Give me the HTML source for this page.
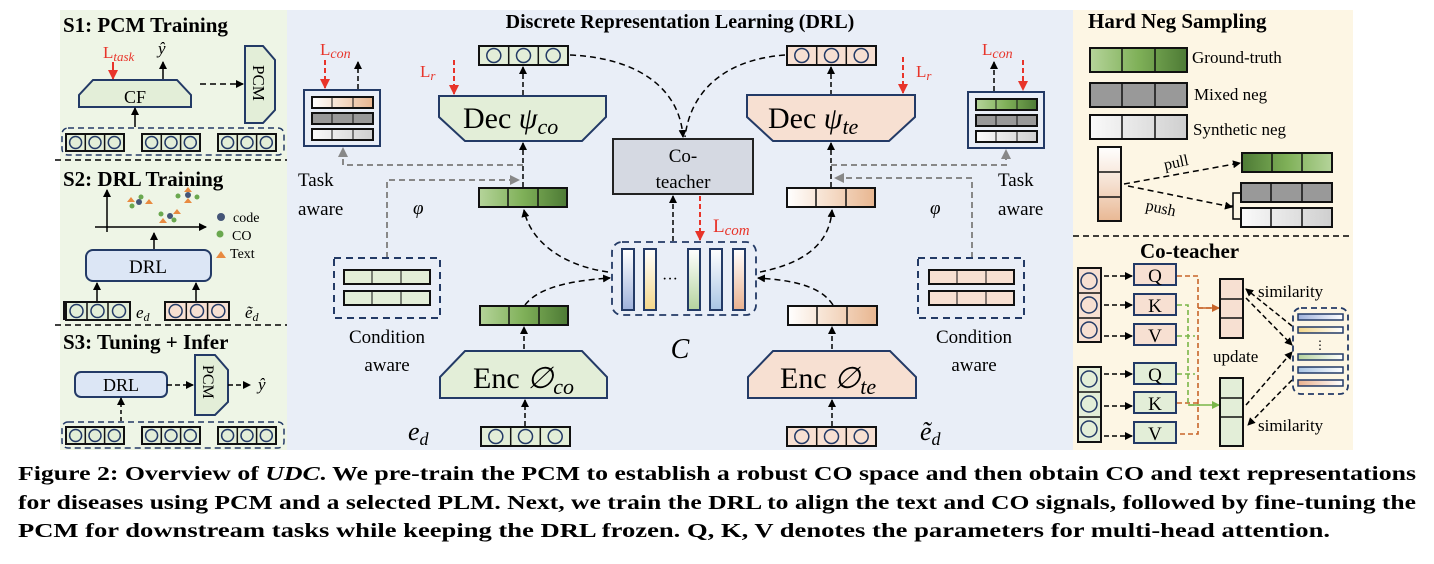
<!DOCTYPE html>
<html><head><meta charset="utf-8"><style>
html,body{margin:0;padding:0;background:#fff}
svg{display:block}
text{font-family:"Liberation Serif",serif}
</style></head><body>
<svg width="1434" height="564" viewBox="0 0 1434 564" xmlns="http://www.w3.org/2000/svg">
<defs>
<marker id="ab" markerWidth="8" markerHeight="8" refX="7" refY="4" orient="auto" markerUnits="userSpaceOnUse"><path d="M0,0 L8,4 L0,8 z" fill="#000"/></marker>
<marker id="ar" markerWidth="10" markerHeight="10" refX="9" refY="5" orient="auto" markerUnits="userSpaceOnUse"><path d="M0,0 L10,5 L0,10 z" fill="#e8342a"/></marker>
<marker id="ag" markerWidth="10" markerHeight="10" refX="9" refY="5" orient="auto" markerUnits="userSpaceOnUse"><path d="M0,0 L10,5 L0,10 z" fill="#888"/></marker>
<marker id="ao" markerWidth="8" markerHeight="8" refX="7" refY="4" orient="auto" markerUnits="userSpaceOnUse"><path d="M0,0 L8,4 L0,8 z" fill="#c8652a"/></marker>
<marker id="agr" markerWidth="8" markerHeight="8" refX="7" refY="4" orient="auto" markerUnits="userSpaceOnUse"><path d="M0,0 L8,4 L0,8 z" fill="#7ab648"/></marker>
<linearGradient id="gg" x1="0" x2="1"><stop offset="0" stop-color="#b5d49a"/><stop offset=".5" stop-color="#7fb058"/><stop offset="1" stop-color="#4d7a35"/></linearGradient>
<linearGradient id="ggr" x1="1" x2="0"><stop offset="0" stop-color="#b5d49a"/><stop offset=".5" stop-color="#7fb058"/><stop offset="1" stop-color="#4d7a35"/></linearGradient>
<linearGradient id="gp" x1="0" x2="1"><stop offset="0" stop-color="#fff"/><stop offset=".5" stop-color="#f5dcc8"/><stop offset="1" stop-color="#e8b690"/></linearGradient>
<linearGradient id="gl" x1="0" x2="1"><stop offset="0" stop-color="#fafafa"/><stop offset="1" stop-color="#cfcfcf"/></linearGradient>
<linearGradient id="gv" x1="0" y1="0" x2="0" y2="1"><stop offset="0" stop-color="#fff"/><stop offset=".5" stop-color="#f5e0d0"/><stop offset="1" stop-color="#e9b894"/></linearGradient>
<linearGradient id="b1" x1="0" y1="0" x2="0" y2="1"><stop offset="0" stop-color="#fff"/><stop offset="1" stop-color="#9fb2dc"/></linearGradient>
<linearGradient id="b2" x1="0" y1="0" x2="0" y2="1"><stop offset="0" stop-color="#fff"/><stop offset="1" stop-color="#f4d78a"/></linearGradient>
<linearGradient id="b3" x1="0" y1="0" x2="0" y2="1"><stop offset="0" stop-color="#fff"/><stop offset="1" stop-color="#b5d39e"/></linearGradient>
<linearGradient id="b4" x1="0" y1="0" x2="0" y2="1"><stop offset="0" stop-color="#fff"/><stop offset="1" stop-color="#a9c5e4"/></linearGradient>
<linearGradient id="b5" x1="0" y1="0" x2="0" y2="1"><stop offset="0" stop-color="#fff"/><stop offset="1" stop-color="#eab18e"/></linearGradient>
<linearGradient id="h1" x1="0" x2="1"><stop offset="0" stop-color="#9fb2dc"/><stop offset="1" stop-color="#fff"/></linearGradient>
<linearGradient id="h2" x1="0" x2="1"><stop offset="0" stop-color="#f4d78a"/><stop offset="1" stop-color="#fff"/></linearGradient>
<linearGradient id="h3" x1="0" x2="1"><stop offset="0" stop-color="#b5d39e"/><stop offset="1" stop-color="#fff"/></linearGradient>
<linearGradient id="h4" x1="0" x2="1"><stop offset="0" stop-color="#a9c5e4"/><stop offset="1" stop-color="#fff"/></linearGradient>
<linearGradient id="h5" x1="0" x2="1"><stop offset="0" stop-color="#eab18e"/><stop offset="1" stop-color="#fff"/></linearGradient>
<g id="cg"><rect x="0" y="0" width="58" height="17" fill="#e3eed8" stroke="#111" stroke-width="2"/><line x1="19.3" y1="0" x2="19.3" y2="17" stroke="#111" stroke-width="1.5"/><line x1="38.6" y1="0" x2="38.6" y2="17" stroke="#111" stroke-width="1.5"/><circle cx="9.6" cy="8.5" r="6" fill="none" stroke="#233a66" stroke-width="1.5"/><circle cx="29" cy="8.5" r="6" fill="none" stroke="#233a66" stroke-width="1.5"/><circle cx="48.3" cy="8.5" r="6" fill="none" stroke="#233a66" stroke-width="1.5"/></g>
<g id="cp"><rect x="0" y="0" width="64" height="18" fill="#f7e0d2" stroke="#111" stroke-width="2"/><line x1="21.3" y1="0" x2="21.3" y2="18" stroke="#111" stroke-width="1.5"/><line x1="42.6" y1="0" x2="42.6" y2="18" stroke="#111" stroke-width="1.5"/><circle cx="10.6" cy="9" r="6.5" fill="none" stroke="#233a66" stroke-width="1.5"/><circle cx="32" cy="9" r="6.5" fill="none" stroke="#233a66" stroke-width="1.5"/><circle cx="53.3" cy="9" r="6.5" fill="none" stroke="#233a66" stroke-width="1.5"/></g>
<g id="cgm"><rect x="0" y="0" width="89" height="19" fill="#e3eed8" stroke="#111" stroke-width="2"/><line x1="29.7" y1="0" x2="29.7" y2="19" stroke="#111" stroke-width="1.5"/><line x1="59.3" y1="0" x2="59.3" y2="19" stroke="#111" stroke-width="1.5"/><circle cx="14.8" cy="9.5" r="7" fill="none" stroke="#233a66" stroke-width="1.5"/><circle cx="44.5" cy="9.5" r="7" fill="none" stroke="#233a66" stroke-width="1.5"/><circle cx="74.2" cy="9.5" r="7" fill="none" stroke="#233a66" stroke-width="1.5"/></g>
<g id="cpm"><rect x="0" y="0" width="89" height="19" fill="#f7e0d2" stroke="#111" stroke-width="2"/><line x1="29.7" y1="0" x2="29.7" y2="19" stroke="#111" stroke-width="1.5"/><line x1="59.3" y1="0" x2="59.3" y2="19" stroke="#111" stroke-width="1.5"/><circle cx="14.8" cy="9.5" r="7" fill="none" stroke="#233a66" stroke-width="1.5"/><circle cx="44.5" cy="9.5" r="7" fill="none" stroke="#233a66" stroke-width="1.5"/><circle cx="74.2" cy="9.5" r="7" fill="none" stroke="#233a66" stroke-width="1.5"/></g>
</defs>

<!-- panels -->
<rect x="60" y="10" width="227" height="440" fill="#eef5e6"/>
<rect x="287" y="10" width="786" height="440" fill="#e9eef7"/>
<rect x="1073" y="10" width="280" height="440" fill="#fdf6e4"/>

<!-- LEFT PANEL -->
<g font-weight="bold" font-size="21" fill="#000">
<text x="63" y="32">S1: PCM Training</text>
<text x="63" y="186">S2: DRL Training</text>
<text x="63" y="349">S3: Tuning + Infer</text>
</g>
<text x="103" y="58" font-size="17" fill="#e8342a">L<tspan font-style="italic" font-size="13" dy="3">task</tspan></text>
<text x="158" y="54" font-size="17" font-style="italic">ŷ</text>
<line x1="113" y1="62" x2="113" y2="79" stroke="#e8342a" stroke-width="2" marker-end="url(#ar)"/>
<line x1="163" y1="80" x2="163" y2="62" stroke="#000" stroke-width="1.5" marker-end="url(#ab)"/>
<path d="M79,107 L79,95 L93,80 L177,80 L191,95 L191,107 Z" fill="#e3eed8" stroke="#233a66" stroke-width="2"/>
<text x="135" y="103" font-size="18" text-anchor="middle">CF</text>
<line x1="200" y1="84" x2="243" y2="84" stroke="#000" stroke-width="1.5" stroke-dasharray="6,4" marker-end="url(#ab)"/>
<path d="M245,46 L263,46 L275,60 L275,110 L263,123 L245,123 Z" fill="#e3eed8" stroke="#233a66" stroke-width="2"/>
<text transform="translate(253,65) rotate(90)" font-size="17">PCM</text>
<line x1="135" y1="127" x2="135" y2="108" stroke="#000" stroke-width="1.5" marker-end="url(#ab)"/>
<rect x="62" y="128" width="222" height="27" rx="6" fill="none" stroke="#233a66" stroke-width="1.5" stroke-dasharray="6,4"/>
<use href="#cg" x="66" y="134"/><use href="#cg" x="142" y="134"/><use href="#cg" x="218" y="134"/>
<line x1="55" y1="160" x2="287" y2="160" stroke="#000" stroke-width="1.5" stroke-dasharray="6,4"/>
<line x1="107" y1="232" x2="107" y2="190" stroke="#000" stroke-width="1.5" marker-end="url(#ab)"/>
<line x1="95" y1="227" x2="206" y2="227" stroke="#000" stroke-width="1.5" marker-end="url(#ab)"/>
<g fill="#445577">
<circle cx="139" cy="202" r="3"/><circle cx="188" cy="195" r="3"/><circle cx="170" cy="216" r="3"/></g>
<g fill="#6aa84f"><circle cx="132" cy="206" r="2.5"/><circle cx="141" cy="197" r="2.5"/><circle cx="178" cy="196" r="2.5"/><circle cx="197" cy="197" r="2.5"/><circle cx="161" cy="214" r="2.5"/><circle cx="174" cy="220" r="2.5"/></g>
<g fill="#e88a40"><path d="M127,202 l4,-5 l4,5z"/><path d="M145,204 l4,-5 l4,5z"/><path d="M184,192 l4,-5 l4,5z"/><path d="M184,203 l4,-5 l4,5z"/><path d="M173,214 l4,-5 l4,5z"/><path d="M159,223 l4,-5 l4,5z"/></g>
<circle cx="221" cy="217" r="4" fill="#445577"/><text x="233" y="222" font-size="14">code</text>
<circle cx="220" cy="234" r="3.5" fill="#6aa84f"/><text x="232" y="240" font-size="14">CO</text>
<path d="M216,258 l5,-7 l5,7z" fill="#e88a40"/><text x="230" y="258" font-size="14">Text</text>
<line x1="154" y1="250" x2="154" y2="233" stroke="#000" stroke-width="1.5" marker-end="url(#ab)"/>
<rect x="86" y="250" width="125" height="31" rx="7" fill="#dce6f5" stroke="#233a66" stroke-width="2"/>
<text x="148" y="273" font-size="19" text-anchor="middle">DRL</text>
<line x1="97" y1="301" x2="97" y2="283" stroke="#000" stroke-width="1.5" marker-end="url(#ab)"/>
<line x1="196" y1="301" x2="196" y2="283" stroke="#000" stroke-width="1.5" marker-end="url(#ab)"/>
<use href="#cg" x="66" y="302" transform="translate(-2,0) scale(1)"/>
<rect x="66" y="302" width="64" height="18" fill="#e3eed8" stroke="#111" stroke-width="2"/><line x1="87" y1="302" x2="87" y2="320" stroke="#111" stroke-width="1.5"/><line x1="108" y1="302" x2="108" y2="320" stroke="#111" stroke-width="1.5"/><circle cx="76.5" cy="311" r="6.5" fill="none" stroke="#233a66" stroke-width="1.5"/><circle cx="97.5" cy="311" r="6.5" fill="none" stroke="#233a66" stroke-width="1.5"/><circle cx="119" cy="311" r="6.5" fill="none" stroke="#233a66" stroke-width="1.5"/>
<use href="#cp" x="165" y="302"/>
<text x="136" y="318" font-size="17" font-style="italic">e<tspan font-size="12" dy="3">d</tspan></text>
<text x="245" y="318" font-size="17" font-style="italic">ẽ<tspan font-size="12" dy="3">d</tspan></text>
<line x1="55" y1="325" x2="287" y2="325" stroke="#000" stroke-width="1.5" stroke-dasharray="6,4"/>
<rect x="75" y="372" width="92" height="25" rx="6" fill="#dce6f5" stroke="#233a66" stroke-width="2"/>
<text x="121" y="391" font-size="18" text-anchor="middle">DRL</text>
<line x1="167" y1="385" x2="193" y2="385" stroke="#000" stroke-width="1.5" stroke-dasharray="5,3" marker-end="url(#ab)"/>
<path d="M195,355 L215,355 L228,370 L228,402 L215,415 L195,415 Z" fill="#e3eed8" stroke="#233a66" stroke-width="2"/>
<text transform="translate(203,365) rotate(90)" font-size="16">PCM</text>
<line x1="228" y1="385" x2="250" y2="385" stroke="#000" stroke-width="1.5" stroke-dasharray="5,3" marker-end="url(#ab)"/>
<text x="258" y="390" font-size="17" font-style="italic">ŷ</text>
<line x1="121" y1="421" x2="121" y2="398" stroke="#000" stroke-width="1.5" stroke-dasharray="4,3" marker-end="url(#ab)"/>
<rect x="62" y="422" width="222" height="26" rx="6" fill="none" stroke="#233a66" stroke-width="1.5" stroke-dasharray="6,4"/>
<use href="#cg" x="66" y="427"/><use href="#cg" x="142" y="427"/><use href="#cg" x="218" y="427"/>

<!-- MIDDLE -->
<text x="680" y="28" font-size="20" font-weight="bold" text-anchor="middle">Discrete Representation Learning (DRL)</text>
<!-- left column -->
<use href="#cgm" x="479" y="46"/>
<line x1="523" y1="95" x2="523" y2="67" stroke="#000" stroke-width="1.5" stroke-dasharray="5,3" marker-end="url(#ab)"/>
<path d="M439,96 L606,96 L606,117 L582,141 L465,141 L439,117 Z" fill="#e3eed8" stroke="#233a66" stroke-width="2"/>
<text x="463" y="128" font-size="30">Dec <tspan font-style="italic">ψ</tspan><tspan font-style="italic" font-size="22" dy="6">co</tspan></text>
<text x="420" y="77" font-size="17" fill="#e8342a">L<tspan font-style="italic" font-size="13" dy="3">r</tspan></text>
<line x1="454" y1="60" x2="454" y2="94" stroke="#e8342a" stroke-width="2" stroke-dasharray="5,3" marker-end="url(#ar)"/>
<line x1="523" y1="187" x2="523" y2="143" stroke="#000" stroke-width="1.5" stroke-dasharray="5,3" marker-end="url(#ab)"/>
<rect x="479" y="188" width="88" height="19" fill="url(#gg)" stroke="#111" stroke-width="2"/><line x1="508" y1="188" x2="508" y2="207" stroke="#111" stroke-width="1.5"/><line x1="538" y1="188" x2="538" y2="207" stroke="#111" stroke-width="1.5"/>
<rect x="480" y="306" width="88" height="19" fill="url(#gg)" stroke="#111" stroke-width="2"/><line x1="509" y1="306" x2="509" y2="325" stroke="#111" stroke-width="1.5"/><line x1="539" y1="306" x2="539" y2="325" stroke="#111" stroke-width="1.5"/>
<line x1="524" y1="349" x2="524" y2="327" stroke="#000" stroke-width="1.5" stroke-dasharray="5,3" marker-end="url(#ab)"/>
<path d="M440,398 L440,377 L465,351 L582,351 L607,377 L607,398 Z" fill="#e3eed8" stroke="#233a66" stroke-width="2"/>
<text x="473" y="388" font-size="30">Enc <tspan font-style="italic">∅</tspan><tspan font-style="italic" font-size="22" dy="6">co</tspan></text>
<line x1="525" y1="426" x2="525" y2="400" stroke="#000" stroke-width="1.5" stroke-dasharray="5,3" marker-end="url(#ab)"/>
<use href="#cgm" x="481" y="427"/>
<text x="408" y="440" font-size="26" font-style="italic">e<tspan font-size="18" dy="5">d</tspan></text>
<!-- task aware left -->
<rect x="304" y="90" width="76" height="56" fill="#e9eef7" stroke="#233a66" stroke-width="2"/>
<rect x="312" y="97" width="61" height="11" fill="url(#gp)" stroke="#111" stroke-width="2"/><line x1="332" y1="97" x2="332" y2="108" stroke="#111"/><line x1="353" y1="97" x2="353" y2="108" stroke="#111"/>
<rect x="312" y="113" width="61" height="11" fill="#999" stroke="#111" stroke-width="2"/><line x1="332" y1="113" x2="332" y2="124" stroke="#111"/><line x1="353" y1="113" x2="353" y2="124" stroke="#111"/>
<rect x="312" y="129" width="61" height="11" fill="url(#gl)" stroke="#111" stroke-width="2"/><line x1="332" y1="129" x2="332" y2="140" stroke="#111"/><line x1="353" y1="129" x2="353" y2="140" stroke="#111"/>
<text x="320" y="55" font-size="17" fill="#e8342a">L<tspan font-style="italic" font-size="14" dy="3">con</tspan></text>
<line x1="325" y1="60" x2="325" y2="88" stroke="#e8342a" stroke-width="2" stroke-dasharray="5,3" marker-end="url(#ar)"/>
<line x1="358" y1="89" x2="358" y2="62" stroke="#000" stroke-width="1.5" stroke-dasharray="5,3" marker-end="url(#ab)"/>
<path d="M523,165 L343,165 L343,148" fill="none" stroke="#888" stroke-width="2" stroke-dasharray="6,4" marker-end="url(#ag)"/>
<path d="M387,258 L387,180 L519,180" fill="none" stroke="#888" stroke-width="2" stroke-dasharray="6,4" marker-end="url(#ag)"/>
<text x="298" y="186" font-size="19">Task</text><text x="298" y="215" font-size="19">aware</text>
<text x="413" y="214" font-size="19" font-style="italic">φ</text>
<rect x="334" y="258" width="106" height="60" fill="none" stroke="#233a66" stroke-width="2" stroke-dasharray="7,5"/>
<rect x="344" y="270" width="86" height="14" fill="#e3eed8" stroke="#111" stroke-width="2"/><line x1="372" y1="270" x2="372" y2="284" stroke="#111"/><line x1="401" y1="270" x2="401" y2="284" stroke="#111"/>
<rect x="344" y="291" width="86" height="14" fill="#e3eed8" stroke="#111" stroke-width="2"/><line x1="372" y1="291" x2="372" y2="305" stroke="#111"/><line x1="401" y1="291" x2="401" y2="305" stroke="#111"/>
<text x="387" y="343" font-size="19" text-anchor="middle">Condition</text><text x="387" y="371" font-size="19" text-anchor="middle">aware</text>
<!-- co-teacher, C -->
<rect x="613" y="139" width="140" height="55" fill="#d5d9e2" stroke="#222" stroke-width="2"/>
<text x="683" y="162" font-size="19" text-anchor="middle">Co-</text><text x="683" y="188" font-size="19" text-anchor="middle">teacher</text>
<path d="M570,55 C640,58 680,90 683,137" fill="none" stroke="#000" stroke-width="1.5" stroke-dasharray="6,4" marker-end="url(#ab)"/>
<path d="M785,55 C720,60 690,95 685,137" fill="none" stroke="#000" stroke-width="1.5" stroke-dasharray="6,4"/>
<line x1="673" y1="241" x2="673" y2="196" stroke="#000" stroke-width="1.5" stroke-dasharray="5,3" marker-end="url(#ab)"/>
<line x1="700" y1="196" x2="700" y2="240" stroke="#e8342a" stroke-width="2" stroke-dasharray="5,3" marker-end="url(#ar)"/>
<text x="713" y="232" font-size="19" fill="#e8342a">L<tspan font-style="italic" font-size="15" dy="3">com</tspan></text>
<rect x="612" y="242" width="144" height="73" rx="10" fill="none" stroke="#233a66" stroke-width="1.8" stroke-dasharray="7,5"/>
<rect x="622" y="249" width="12" height="61" fill="url(#b1)" stroke="#233a66" stroke-width="2"/>
<rect x="644" y="249" width="12" height="61" fill="url(#b2)" stroke="#233a66" stroke-width="2"/>
<text x="670" y="284" font-size="16" text-anchor="middle">···</text>
<rect x="688" y="249" width="12" height="61" fill="url(#b3)" stroke="#233a66" stroke-width="2"/>
<rect x="710" y="249" width="12" height="61" fill="url(#b4)" stroke="#233a66" stroke-width="2"/>
<rect x="733" y="249" width="12" height="61" fill="url(#b5)" stroke="#233a66" stroke-width="2"/>
<text x="680" y="358" font-size="28" font-style="italic" text-anchor="middle">C</text>
<path d="M525,305 C540,285 580,280 610,278" fill="none" stroke="#000" stroke-width="1.5" stroke-dasharray="6,4" marker-end="url(#ab)"/>
<path d="M608,272 C560,265 530,240 524,210" fill="none" stroke="#000" stroke-width="1.5" stroke-dasharray="6,4" marker-end="url(#ab)"/>
<path d="M833,305 C820,285 790,280 758,278" fill="none" stroke="#000" stroke-width="1.5" stroke-dasharray="6,4" marker-end="url(#ab)"/>
<path d="M760,272 C810,262 830,240 832,210" fill="none" stroke="#000" stroke-width="1.5" stroke-dasharray="6,4" marker-end="url(#ab)"/>
<!-- right column -->
<use href="#cpm" x="787" y="46"/>
<line x1="831" y1="95" x2="831" y2="67" stroke="#000" stroke-width="1.5" stroke-dasharray="5,3" marker-end="url(#ab)"/>
<path d="M747,95 L915,95 L915,117 L889,141 L773,141 L747,117 Z" fill="#f7e0d2" stroke="#233a66" stroke-width="2"/>
<text x="768" y="128" font-size="30">Dec <tspan font-style="italic">ψ</tspan><tspan font-style="italic" font-size="22" dy="6">te</tspan></text>
<line x1="903" y1="57" x2="903" y2="93" stroke="#e8342a" stroke-width="2" stroke-dasharray="5,3" marker-end="url(#ar)"/>
<text x="916" y="77" font-size="17" fill="#e8342a">L<tspan font-style="italic" font-size="13" dy="3">r</tspan></text>
<line x1="831" y1="187" x2="831" y2="143" stroke="#000" stroke-width="1.5" stroke-dasharray="5,3" marker-end="url(#ab)"/>
<rect x="787" y="188" width="88" height="19" fill="url(#gp)" stroke="#111" stroke-width="2"/><line x1="816" y1="188" x2="816" y2="207" stroke="#111" stroke-width="1.5"/><line x1="846" y1="188" x2="846" y2="207" stroke="#111" stroke-width="1.5"/>
<rect x="788" y="306" width="89" height="19" fill="url(#gp)" stroke="#111" stroke-width="2"/><line x1="817" y1="306" x2="817" y2="325" stroke="#111" stroke-width="1.5"/><line x1="847" y1="306" x2="847" y2="325" stroke="#111" stroke-width="1.5"/>
<line x1="832" y1="349" x2="832" y2="327" stroke="#000" stroke-width="1.5" stroke-dasharray="5,3" marker-end="url(#ab)"/>
<path d="M748,398 L748,377 L773,351 L890,351 L916,377 L916,398 Z" fill="#f7e0d2" stroke="#233a66" stroke-width="2"/>
<text x="780" y="388" font-size="30">Enc <tspan font-style="italic">∅</tspan><tspan font-style="italic" font-size="22" dy="6">te</tspan></text>
<line x1="832" y1="426" x2="832" y2="400" stroke="#000" stroke-width="1.5" stroke-dasharray="5,3" marker-end="url(#ab)"/>
<use href="#cpm" x="787" y="427"/>
<text x="920" y="440" font-size="26" font-style="italic">ẽ<tspan font-size="18" dy="5">d</tspan></text>
<!-- task aware right -->
<rect x="968" y="92" width="76" height="56" fill="#e9eef7" stroke="#233a66" stroke-width="2"/>
<rect x="976" y="99" width="61" height="11" fill="url(#gg)" stroke="#111" stroke-width="2"/><line x1="996" y1="99" x2="996" y2="110" stroke="#111"/><line x1="1017" y1="99" x2="1017" y2="110" stroke="#111"/>
<rect x="976" y="115" width="61" height="11" fill="#999" stroke="#111" stroke-width="2"/><line x1="996" y1="115" x2="996" y2="126" stroke="#111"/><line x1="1017" y1="115" x2="1017" y2="126" stroke="#111"/>
<rect x="976" y="131" width="61" height="11" fill="url(#gl)" stroke="#111" stroke-width="2"/><line x1="996" y1="131" x2="996" y2="142" stroke="#111"/><line x1="1017" y1="131" x2="1017" y2="142" stroke="#111"/>
<text x="982" y="55" font-size="17" fill="#e8342a">L<tspan font-style="italic" font-size="14" dy="3">con</tspan></text>
<line x1="1023" y1="60" x2="1023" y2="90" stroke="#e8342a" stroke-width="2" stroke-dasharray="5,3" marker-end="url(#ar)"/>
<line x1="994" y1="91" x2="994" y2="62" stroke="#000" stroke-width="1.5" stroke-dasharray="5,3" marker-end="url(#ab)"/>
<path d="M831,165 L1006,165 L1006,150" fill="none" stroke="#888" stroke-width="2" stroke-dasharray="6,4" marker-end="url(#ag)"/>
<path d="M972,258 L972,178 L835,178" fill="none" stroke="#888" stroke-width="2" stroke-dasharray="6,4" marker-end="url(#ag)"/>
<text x="998" y="186" font-size="19">Task</text><text x="998" y="215" font-size="19">aware</text>
<text x="930" y="214" font-size="19" font-style="italic">φ</text>
<rect x="918" y="258" width="106" height="60" fill="none" stroke="#233a66" stroke-width="2" stroke-dasharray="7,5"/>
<rect x="929" y="270" width="85" height="14" fill="#f7e0d2" stroke="#111" stroke-width="2"/><line x1="957" y1="270" x2="957" y2="284" stroke="#111"/><line x1="986" y1="270" x2="986" y2="284" stroke="#111"/>
<rect x="929" y="291" width="85" height="14" fill="#f7e0d2" stroke="#111" stroke-width="2"/><line x1="957" y1="291" x2="957" y2="305" stroke="#111"/><line x1="986" y1="291" x2="986" y2="305" stroke="#111"/>
<text x="974" y="343" font-size="19" text-anchor="middle">Condition</text><text x="974" y="371" font-size="19" text-anchor="middle">aware</text>

<!-- RIGHT PANEL -->
<text x="1088" y="28" font-size="21" font-weight="bold">Hard Neg Sampling</text>
<rect x="1090" y="48" width="97" height="24" fill="url(#gg)" stroke="#111" stroke-width="2"/><line x1="1122" y1="48" x2="1122" y2="72" stroke="#111" stroke-width="1.5"/><line x1="1155" y1="48" x2="1155" y2="72" stroke="#111" stroke-width="1.5"/>
<rect x="1090" y="83" width="97" height="24" fill="#999" stroke="#111" stroke-width="2"/><line x1="1122" y1="83" x2="1122" y2="107" stroke="#111" stroke-width="1.5"/><line x1="1155" y1="83" x2="1155" y2="107" stroke="#111" stroke-width="1.5"/>
<rect x="1090" y="115" width="97" height="24" fill="url(#gl)" stroke="#111" stroke-width="2"/><line x1="1122" y1="115" x2="1122" y2="139" stroke="#111" stroke-width="1.5"/><line x1="1155" y1="115" x2="1155" y2="139" stroke="#111" stroke-width="1.5"/>
<text x="1192" y="63" font-size="17">Ground-truth</text>
<text x="1194" y="100" font-size="17">Mixed neg</text>
<text x="1193" y="135" font-size="17">Synthetic neg</text>
<rect x="1098" y="147" width="23" height="74" fill="url(#gv)" stroke="#111" stroke-width="2"/><line x1="1098" y1="172" x2="1121" y2="172" stroke="#111" stroke-width="1.5"/><line x1="1098" y1="197" x2="1121" y2="197" stroke="#111" stroke-width="1.5"/>
<line x1="1124" y1="184" x2="1240" y2="163" stroke="#000" stroke-width="1.5" stroke-dasharray="6,4" marker-end="url(#ab)"/>
<line x1="1128" y1="186" x2="1232" y2="207" stroke="#000" stroke-width="1.5" stroke-dasharray="6,4" marker-end="url(#ab)"/>
<path d="M1240,193 L1233,193 L1233,219 L1240,219 M1233,206 L1229,206" fill="none" stroke="#000" stroke-width="1.5"/>
<text transform="translate(1165,170) rotate(-12)" font-size="16">pull</text>
<text transform="translate(1145,210) rotate(12)" font-size="16">push</text>
<rect x="1242" y="153" width="90" height="19" fill="url(#ggr)" stroke="#111" stroke-width="2"/><line x1="1272" y1="153" x2="1272" y2="172" stroke="#111" stroke-width="1.5"/><line x1="1302" y1="153" x2="1302" y2="172" stroke="#111" stroke-width="1.5"/>
<rect x="1241" y="183" width="91" height="19" fill="#999" stroke="#111" stroke-width="2"/><line x1="1271" y1="183" x2="1271" y2="202" stroke="#111" stroke-width="1.5"/><line x1="1302" y1="183" x2="1302" y2="202" stroke="#111" stroke-width="1.5"/>
<rect x="1241" y="208" width="91" height="19" fill="url(#gl)" stroke="#111" stroke-width="2"/><line x1="1271" y1="208" x2="1271" y2="227" stroke="#111" stroke-width="1.5"/><line x1="1302" y1="208" x2="1302" y2="227" stroke="#111" stroke-width="1.5"/>
<line x1="1073" y1="236" x2="1353" y2="236" stroke="#000" stroke-width="1.5" stroke-dasharray="6,4"/>
<text x="1140" y="258" font-size="21" font-weight="bold">Co-teacher</text>
<!-- coteacher inputs -->
<rect x="1078" y="268" width="23" height="74" fill="#f7e0d2" stroke="#111" stroke-width="2"/><line x1="1078" y1="293" x2="1101" y2="293" stroke="#111" stroke-width="1.5"/><line x1="1078" y1="318" x2="1101" y2="318" stroke="#111" stroke-width="1.5"/>
<ellipse cx="1089" cy="281" rx="8" ry="8" fill="none" stroke="#233a66" stroke-width="1.5"/><ellipse cx="1089" cy="305" rx="8" ry="8" fill="none" stroke="#233a66" stroke-width="1.5"/><ellipse cx="1089" cy="330" rx="8" ry="8" fill="none" stroke="#233a66" stroke-width="1.5"/>
<rect x="1078" y="367" width="23" height="75" fill="#e3eed8" stroke="#111" stroke-width="2"/><line x1="1078" y1="392" x2="1101" y2="392" stroke="#111" stroke-width="1.5"/><line x1="1078" y1="417" x2="1101" y2="417" stroke="#111" stroke-width="1.5"/>
<ellipse cx="1089" cy="379" rx="8" ry="8" fill="none" stroke="#233a66" stroke-width="1.5"/><ellipse cx="1089" cy="404" rx="8" ry="8" fill="none" stroke="#233a66" stroke-width="1.5"/><ellipse cx="1089" cy="429" rx="8" ry="8" fill="none" stroke="#233a66" stroke-width="1.5"/>
<g stroke="#000" stroke-width="1.5" stroke-dasharray="5,3">
<line x1="1104" y1="276" x2="1132" y2="276" marker-end="url(#ab)"/><line x1="1104" y1="305" x2="1132" y2="305" marker-end="url(#ab)"/><line x1="1104" y1="336" x2="1132" y2="336" marker-end="url(#ab)"/>
<line x1="1104" y1="374" x2="1132" y2="374" marker-end="url(#ab)"/><line x1="1104" y1="406" x2="1132" y2="406" marker-end="url(#ab)"/><line x1="1104" y1="436" x2="1132" y2="436" marker-end="url(#ab)"/>
</g>
<g font-size="19" text-anchor="middle">
<rect x="1134" y="264" width="42" height="21" fill="#f7e0d2" stroke="#233a66" stroke-width="2"/><text x="1155" y="282">Q</text>
<rect x="1134" y="294" width="42" height="21" fill="#f7e0d2" stroke="#233a66" stroke-width="2"/><text x="1155" y="312">K</text>
<rect x="1134" y="324" width="42" height="21" fill="#f7e0d2" stroke="#233a66" stroke-width="2"/><text x="1155" y="342">V</text>
<rect x="1134" y="363" width="42" height="21" fill="#e3eed8" stroke="#233a66" stroke-width="2"/><text x="1155" y="381">Q</text>
<rect x="1134" y="392" width="42" height="21" fill="#e3eed8" stroke="#233a66" stroke-width="2"/><text x="1155" y="410">K</text>
<rect x="1134" y="422" width="42" height="21" fill="#e3eed8" stroke="#233a66" stroke-width="2"/><text x="1155" y="440">V</text>
</g>
<path d="M1177,276 L1198,276 L1198,434 L1177,434 M1177,403 L1198,403 M1198,308 L1218,308" fill="none" stroke="#c8652a" stroke-width="1.6" stroke-dasharray="5,3"/>
<line x1="1198" y1="308" x2="1219" y2="308" stroke="#c8652a" stroke-width="1.6" marker-end="url(#ao)"/>
<path d="M1177,305 L1188,305 L1188,405 L1200,405 M1177,336 L1195,336 M1177,374 L1195,374" fill="none" stroke="#7ab648" stroke-width="1.6" stroke-dasharray="5,3"/>
<line x1="1188" y1="405" x2="1219" y2="405" stroke="#7ab648" stroke-width="1.6" marker-end="url(#agr)"/>
<rect x="1220" y="279" width="23" height="59" fill="#f7e0d2" stroke="#111" stroke-width="2"/><line x1="1220" y1="299" x2="1243" y2="299" stroke="#111" stroke-width="1.5"/><line x1="1220" y1="318" x2="1243" y2="318" stroke="#111" stroke-width="1.5"/>
<rect x="1220" y="378" width="23" height="68" fill="#e3eed8" stroke="#111" stroke-width="2"/><line x1="1220" y1="398" x2="1243" y2="398" stroke="#111" stroke-width="1.5"/><line x1="1220" y1="417" x2="1243" y2="417" stroke="#111" stroke-width="1.5"/>
<text x="1258" y="297" font-size="17">similarity</text>
<text x="1258" y="431" font-size="17">similarity</text>
<text x="1213" y="362" font-size="17">update</text>
<g stroke="#000" stroke-width="1.5" stroke-dasharray="5,3" fill="none">
<line x1="1292" y1="326" x2="1246" y2="289" marker-end="url(#ab)"/>
<line x1="1246" y1="298" x2="1292" y2="345" marker-end="url(#ab)"/>
<line x1="1246" y1="405" x2="1292" y2="352" marker-end="url(#ab)"/>
<line x1="1292" y1="380" x2="1248" y2="425" marker-end="url(#ab)"/>
</g>
<rect x="1293" y="308" width="55" height="86" rx="8" fill="none" stroke="#233a66" stroke-width="1.8" stroke-dasharray="6,4"/>
<rect x="1298" y="314" width="45" height="6" fill="url(#h1)" stroke="#233a66" stroke-width="1.5"/>
<rect x="1298" y="327" width="45" height="6" fill="url(#h2)" stroke="#233a66" stroke-width="1.5"/>
<text x="1320" y="349" font-size="12" text-anchor="middle">⋮</text>
<rect x="1298" y="354" width="45" height="6" fill="url(#h3)" stroke="#233a66" stroke-width="1.5"/>
<rect x="1298" y="367" width="45" height="6" fill="url(#h4)" stroke="#233a66" stroke-width="1.5"/>
<rect x="1298" y="380" width="45" height="6" fill="url(#h5)" stroke="#233a66" stroke-width="1.5"/>

<!-- caption -->
<g font-size="20" font-weight="bold">
<text x="18" y="480" textLength="1398" lengthAdjust="spacingAndGlyphs">Figure 2: Overview of <tspan font-style="italic">UDC</tspan>. We pre-train the PCM to establish a robust CO space and then obtain CO and text representations</text>
<text x="18" y="509" textLength="1398" lengthAdjust="spacingAndGlyphs">for diseases using PCM and a selected PLM. Next, we train the DRL to align the text and CO signals, followed by fine-tuning the</text>
<text x="18" y="537" textLength="1312" lengthAdjust="spacingAndGlyphs">PCM for downstream tasks while keeping the DRL frozen. Q, K, V denotes the parameters for multi-head attention.</text>
</g>
</svg>
</body></html>
